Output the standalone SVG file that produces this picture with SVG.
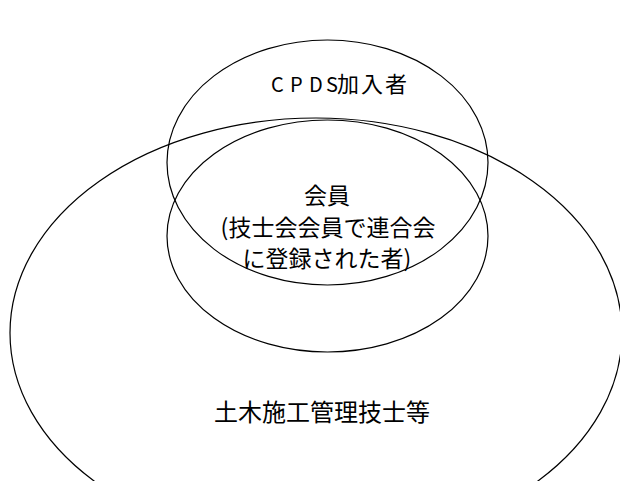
<svg xmlns="http://www.w3.org/2000/svg" width="620" height="481" viewBox="0 0 620 481">
<style>
.e{fill:none;stroke:#000;stroke-width:1.2}
.t{font-family:"Noto Sans CJK JP","Noto Sans",sans-serif;fill:#000;text-anchor:middle}
.s{font-family:"Noto Sans CJK JP","Noto Sans",sans-serif;fill:#000}
</style>
<rect width="620" height="481" fill="#fff"/>
<g id="doboku">
<ellipse class="e" cx="316" cy="333" rx="306" ry="215"/>
<text class="t" x="322" y="421" font-size="24">土木施工管理技士等</text>
</g>
<g id="cpds">
<ellipse class="e" cx="327.5" cy="162.5" rx="160.5" ry="122.5"/>
<text class="s" y="92" font-size="20"><tspan x="271">C</tspan><tspan x="290">P</tspan><tspan x="309">D</tspan><tspan x="326">S</tspan><tspan x="337" letter-spacing="2" font-size="22">加入者</tspan></text>
</g>
<g id="kaiin">
<ellipse class="e" cx="327.5" cy="236" rx="160.5" ry="116"/>
<text class="t" font-size="23"><tspan x="327" y="204">会員</tspan><tspan x="328" y="236">(技士会会員で連合会</tspan><tspan x="327" y="267">に登録された者)</tspan></text>
</g>
</svg>
